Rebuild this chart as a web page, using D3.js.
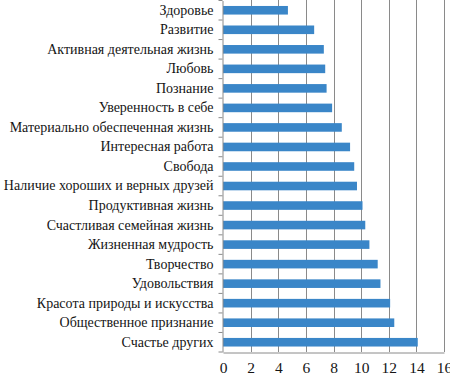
<!DOCTYPE html>
<html><head><meta charset="utf-8">
<script src="https://cdn.jsdelivr.net/npm/d3@7"></script>
<style>body{margin:0;background:#fff}svg{display:block}</style>
</head><body>
<script>
const categories = ["Здоровье","Развитие","Активная деятельная жизнь","Любовь","Познание","Уверенность в себе","Материально обеспеченная жизнь","Интересная работа","Свобода","Наличие хороших и верных друзей","Продуктивная жизнь","Счастливая семейная жизнь","Жизненная мудрость","Творчество","Удовольствия","Красота природы и искусства","Общественное признание","Счастье других"];
const values = [4.7,6.6,7.3,7.4,7.5,7.9,8.6,9.2,9.5,9.7,10.1,10.3,10.6,11.2,11.4,12.1,12.4,14.1];
const xTicks = [0,2,4,6,8,10,12,14,16];

const W=450,H=374;
const FONT="'Liberation Serif', 'Times New Roman', serif";
const m={left:223,right:6,top:0.5,bottom:22};
const svg=d3.select("body").append("svg").attr("width",W).attr("height",H);
const x=d3.scaleLinear().domain([0,16]).range([m.left,W-m.right]);
const y=d3.scaleBand().domain(categories).range([m.top,H-m.bottom]).paddingInner(0.56).paddingOuter(0.28);

// gridlines
svg.append("g").selectAll("line").data(xTicks.slice(1)).join("line")
 .attr("x1",d=>Math.round(x(d))+0.5).attr("x2",d=>Math.round(x(d))+0.5)
 .attr("y1",0).attr("y2",H-m.bottom).attr("stroke","#8a8a8a").attr("stroke-width",1);

// bars
svg.append("g").selectAll("rect").data(values).join("rect")
 .attr("x",x(0)).attr("y",(d,i)=>y(categories[i]))
 .attr("width",d=>x(d)-x(0)).attr("height",y.bandwidth())
 .attr("fill","#3a86c8");

// x axis
const xa=svg.append("g").attr("transform",`translate(0,${H-m.bottom+0.5})`)
 .call(d3.axisBottom(x).tickValues(xTicks).tickSize(0).tickPadding(9));
xa.select(".domain").attr("stroke","#8a8a8a");
xa.selectAll("text").style("font-family",FONT).style("font-size","15.5px").style("fill","#151515");

// y axis
const ya=svg.append("g").attr("transform",`translate(${m.left-0.5},0)`)
 .call(d3.axisLeft(y).tickSize(0).tickPadding(9));
ya.select(".domain").attr("stroke","#8a8a8a");
ya.selectAll("text").style("font-family",FONT).style("font-size","14px").style("fill","#151515");
// small boundary ticks
const step=y.step();
const bounds=d3.range(categories.length+1).map(i=>y(categories[0])-y.paddingInner()*step/2+i*step);
ya.selectAll(".bt").data(bounds).join("line").attr("class","bt")
 .attr("x1",-4).attr("x2",0).attr("y1",d=>d).attr("y2",d=>d).attr("stroke","#8a8a8a");
</script>
</body></html>
